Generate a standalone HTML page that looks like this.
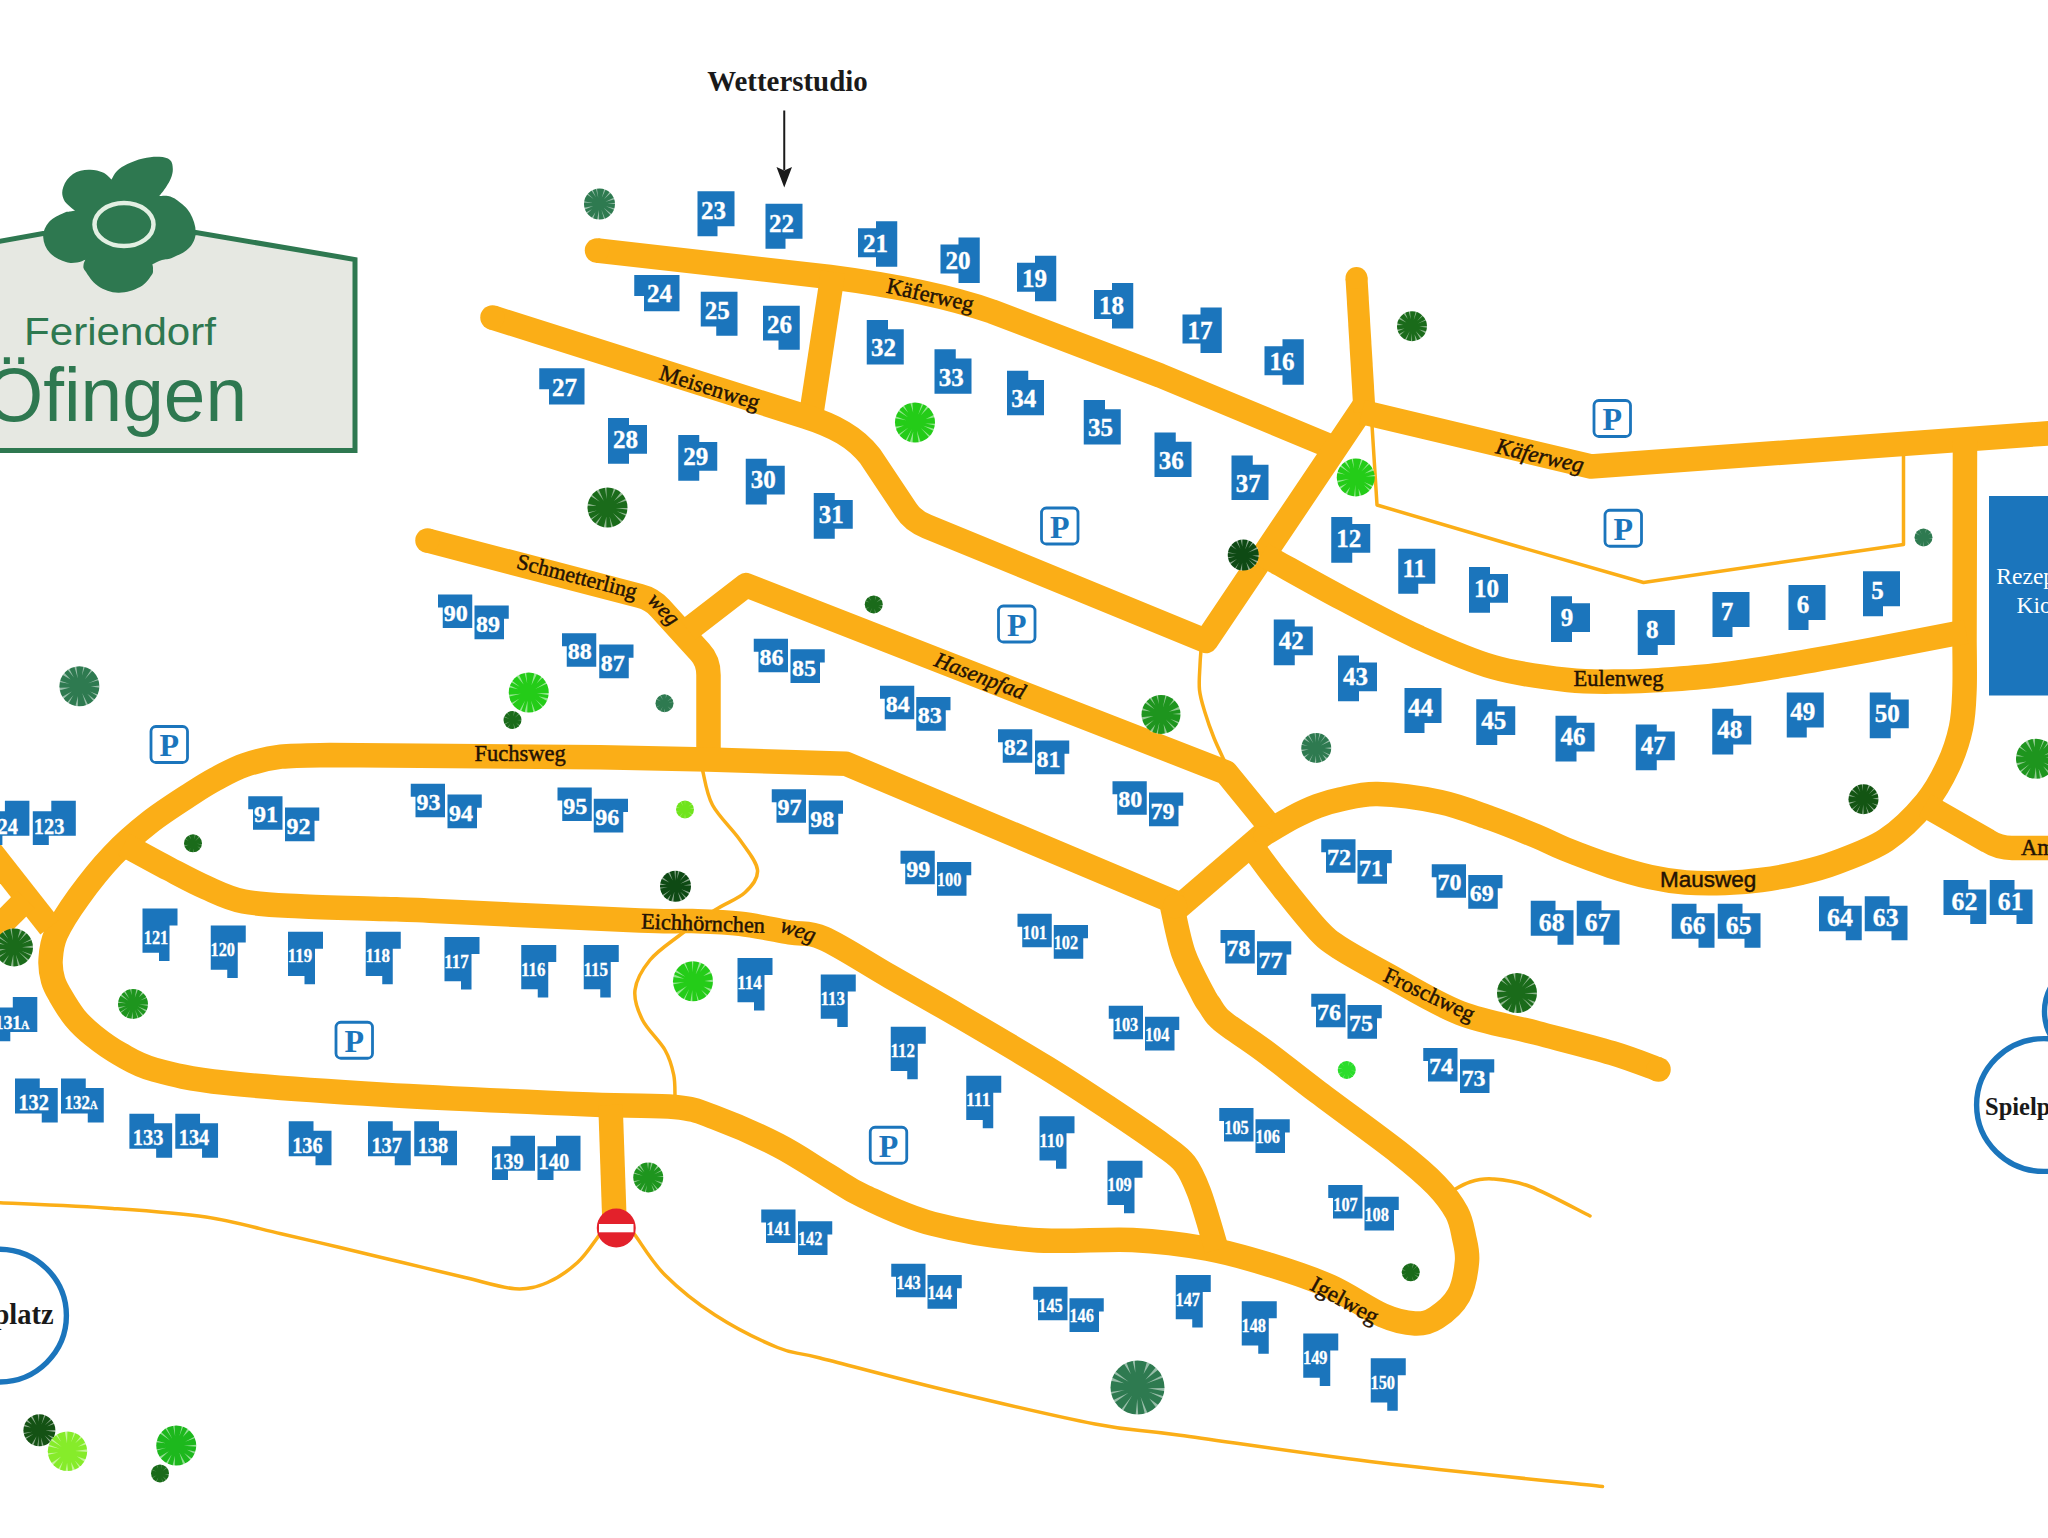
<!DOCTYPE html>
<html><head><meta charset="utf-8"><title>Feriendorf Öfingen</title>
<style>
html,body{margin:0;padding:0;background:#fff;}
body{width:2048px;height:1538px;overflow:hidden;font-family:"Liberation Sans",sans-serif;}
svg{display:block;}
</style></head><body>
<svg width="2048" height="1538" viewBox="0 0 2048 1538">
<rect width="2048" height="1538" fill="#fff"/>
<g fill="none" stroke="#FBAE17" stroke-linejoin="round">
<path d="M1372,425 L1377,505 L1504,542.5 L1643.5,582.5 L1903.5,544.5 L1903.5,455" stroke-width="3.5" stroke-linecap="round"/>
<path d="M1201,650C1200.83,652.5 1200.25,658.33 1200,665C1199.75,671.67 1198.67,682.08 1199.5,690C1200.33,697.92 1202.58,704.5 1205,712.5C1207.42,720.5 1210.83,730.08 1214,738C1217.17,745.92 1222.33,756.33 1224,760" stroke-width="3.5" stroke-linecap="round"/>
<path d="M702.5,770C704.17,775.83 706.25,793.33 712.5,805C718.75,816.67 732.5,829.17 740,840C747.5,850.83 756.67,861.25 757.5,870C758.33,878.75 752.08,885.83 745,892.5C737.92,899.17 725.83,902.92 715,910C704.17,917.08 690.83,926.67 680,935C669.17,943.33 657.5,950.83 650,960C642.5,969.17 636.25,980 635,990C633.75,1000 637.5,1010 642.5,1020C647.5,1030 659.79,1040.83 665,1050C670.21,1059.17 672.08,1067 673.75,1075C675.42,1083 674.79,1094.17 675,1098" stroke-width="3.5" stroke-linecap="round"/>
<path d="M-5,1202.5C14.58,1203.48 77.33,1205.98 112.5,1208.4C147.67,1210.82 177.92,1212.78 206,1217C234.08,1221.22 258.67,1228.67 281,1233.75C303.33,1238.83 319.75,1242.71 340,1247.5C360.25,1252.29 381.67,1257.5 402.5,1262.5C423.33,1267.5 446.25,1273.12 465,1277.5C483.75,1281.88 501.25,1287.92 515,1288.75C528.75,1289.58 537.08,1286.88 547.5,1282.5C557.92,1278.12 569.17,1270 577.5,1262.5C585.83,1255 592.75,1243.92 597.5,1237.5C602.25,1231.08 604.58,1226.25 606,1224" stroke-width="3.5" stroke-linecap="round"/>
<path d="M627,1224C628.33,1225.83 628.67,1226.5 635,1235C641.33,1243.5 651.67,1261.67 665,1275C678.33,1288.33 696.25,1302.92 715,1315C733.75,1327.08 760,1340.33 777.5,1347.5C795,1354.67 792.08,1350.92 820,1358C847.92,1365.08 899.17,1379 945,1390C990.83,1401 1055.83,1416.46 1095,1424C1134.17,1431.54 1132.5,1428.79 1180,1435.25C1227.5,1441.71 1309.58,1454.21 1380,1462.75C1450.42,1471.29 1565.42,1482.54 1602.5,1486.5" stroke-width="3.5" stroke-linecap="round"/>
<path d="M1450,1192C1453.33,1190.33 1462.92,1184.17 1470,1182C1477.08,1179.83 1482.5,1178.25 1492.5,1179C1502.5,1179.75 1513.75,1180.33 1530,1186.5C1546.25,1192.67 1580,1211.08 1590,1216" stroke-width="3.5" stroke-linecap="round"/>
<path d="M597,250.5 L830,277 Q930,290 992,311.5 L1160,375.5 L1332,447" stroke-width="24.5" stroke-linecap="butt"/>
<path d="M833,272 L811,416" stroke-width="24.5" stroke-linecap="butt"/>
<path d="M492.5,317.5 L805,416.5 C835,426 855,437 870,456 L906,510 Q913,521 927,526.5 L1206,641 L1366,403" stroke-width="24.5" stroke-linecap="butt"/>
<path d="M1356.5,278 L1364.5,412" stroke-width="22" stroke-linecap="butt"/>
<path d="M1362,412 L1591,466.5 L2060,432.5" stroke-width="24.5" stroke-linecap="butt"/>
<path d="M1262.5,835C1267.5,832.08 1283.33,822.33 1292.5,817.5C1301.67,812.67 1309.58,809 1317.5,806C1325.42,803 1330,801.5 1340,799.5C1350,797.5 1360.83,793.58 1377.5,794C1394.17,794.42 1421.25,798 1440,802C1458.75,806 1474,812.33 1490,818C1506,823.67 1523.5,830.83 1536,836C1548.5,841.17 1552.5,844 1565,849C1577.5,854 1596.83,861.33 1611,866C1625.17,870.67 1637.5,874.25 1650,877C1662.5,879.75 1673.5,881.5 1686,882.5C1698.5,883.5 1712.5,883.42 1725,883C1737.5,882.58 1748.5,881.67 1761,880C1773.5,878.33 1787.5,875.92 1800,873C1812.5,870.08 1821.67,868 1836,862.5C1850.33,857 1871,850 1886,840C1901,830 1915.58,815 1926,802.5C1936.42,790 1942.67,777.5 1948.5,765C1954.33,752.5 1958.33,740 1961,727.5C1963.67,715 1963.92,704.58 1964.5,690C1965.08,675.42 1964.5,648.33 1964.5,640 L1965,440" stroke-width="24.5" stroke-linecap="butt"/>
<path d="M1262,554C1264.27,555.27 1262.1,554.14 1275.6,561.6C1289.1,569.06 1319.27,586.18 1343,598.75C1366.73,611.32 1393,625.62 1418,637C1443,648.38 1468,659.83 1493,667C1518,674.17 1546.17,677.58 1568,680C1589.83,682.42 1608.5,681.5 1624,681.5C1639.5,681.5 1645,681.08 1661,680C1677,678.92 1699.17,677.5 1720,675C1740.83,672.5 1761,669.17 1786,665C1811,660.83 1842.17,655.17 1870,650C1897.83,644.83 1937,637.08 1953,634C1969,630.92 1963.83,631.92 1966,631.5" stroke-width="24.5" stroke-linecap="butt"/>
<path d="M1925,805 L1988,841 Q1999,848 2012,848 L2060,848" stroke-width="24.5" stroke-linecap="butt"/>
<path d="M427.5,540.5 L640,596 Q652,599 660,608 L700,652 Q708.5,661 708.5,675 L708.5,762" stroke-width="24.5" stroke-linecap="butt"/>
<path d="M688,630 L746,585.2 L1226,772.5 L1268,824" stroke-width="24.5" stroke-linecap="butt"/>
<path d="M1251,843.5C1252.13,845.33 1252.3,846.92 1257.8,854.5C1263.3,862.08 1273.97,876.42 1284,889C1294.03,901.58 1308.67,920.17 1318,930C1327.33,939.83 1328.57,940.58 1340,948C1351.43,955.42 1366.6,963.67 1386.6,974.5C1406.6,985.33 1434.93,1003.25 1460,1013C1485.07,1022.75 1511.67,1026.33 1537,1033C1562.33,1039.67 1591.75,1046.92 1612,1053C1632.25,1059.08 1650.75,1066.75 1658.5,1069.5" stroke-width="24.5" stroke-linecap="butt"/>
<path d="M1262.5,835 L1177,908.5" stroke-width="24.5" stroke-linecap="butt"/>
<path d="M1180,904.5 L846,763.75 L708,759.5 L600,757.3 L330,755 C321.83,755.28 295.17,755.03 281,756.7C266.83,758.37 255.9,761.28 245,765C234.1,768.72 224.35,774.33 215.6,779C206.85,783.67 203.43,785.83 192.5,793C181.57,800.17 163.33,811.57 150,822C136.67,832.43 124.38,843.1 112.5,855.6C100.62,868.1 88.17,883.93 78.75,897C69.33,910.07 60.69,923.5 56,934C51.31,944.5 51.1,952.33 50.6,960C50.1,967.67 51.43,974.17 53,980C54.57,985.83 56.33,988.67 60,995C63.67,1001.33 69.38,1011.17 75,1018C80.62,1024.83 86.25,1030 93.75,1036C101.25,1042 109.84,1048.38 120,1054C130.16,1059.62 137.2,1064.9 154.7,1069.7C172.2,1074.5 186.78,1078.63 225,1082.8C263.22,1086.97 323.17,1091.08 384,1094.7C444.83,1098.32 541.5,1102.45 590,1104.5C638.5,1106.55 654.17,1104.83 675,1107C695.83,1109.17 697.92,1111.17 715,1117.5C732.08,1123.83 758.75,1135.42 777.5,1145C796.25,1154.58 813.12,1166.46 827.5,1175C841.88,1183.54 846.25,1188.12 863.75,1196.25C881.25,1204.38 904.38,1216.46 932.5,1223.75C960.62,1231.04 999.17,1237.29 1032.5,1240C1065.83,1242.71 1103.33,1238.54 1132.5,1240C1161.67,1241.46 1184.58,1244.58 1207.5,1248.75C1230.42,1252.92 1249.58,1258.71 1270,1265C1290.42,1271.29 1311.25,1278.12 1330,1286.5C1348.75,1294.88 1368.33,1309.08 1382.5,1315.25C1396.67,1321.42 1406.04,1323.08 1415,1323.5C1423.96,1323.92 1428.96,1322.46 1436.25,1317.75C1443.54,1313.04 1453.62,1304.62 1458.75,1295.25C1463.88,1285.88 1466.12,1271.21 1467,1261.5C1467.88,1251.79 1465.71,1245.17 1464,1237C1462.29,1228.83 1461.42,1221.17 1456.75,1212.5C1452.08,1203.83 1445.67,1195 1436,1185C1426.33,1175 1418.29,1167.87 1398.75,1152.5C1379.21,1137.13 1341.21,1109.78 1318.75,1092.8C1296.29,1075.82 1279.12,1061.82 1264,1050.6C1248.88,1039.38 1235.83,1031.27 1228,1025.5C1220.17,1019.73 1220.08,1019.42 1217,1016C1213.92,1012.58 1211.83,1008.6 1209.5,1005C1207.17,1001.4 1207.32,1002.94 1203,994.4C1198.68,985.86 1188.68,968.15 1183.6,953.75C1178.52,939.35 1174.35,915.62 1172.5,908 L1170.5,901" stroke-width="24.5" stroke-linecap="butt"/>
<path d="M124,844.5C131.46,848.54 155.08,861.58 168.75,868.75C182.42,875.92 193.5,882.04 206,887.5C218.5,892.96 228.08,898.38 243.75,901.5C259.42,904.62 276.62,905 300,906.25C323.38,907.5 362.33,908.25 384,909C405.67,909.75 387.33,908.83 430,910.75C472.67,912.67 596.33,918.79 640,920.5C683.67,922.21 675.33,920.46 692,921C708.67,921.54 723.67,921.83 740,923.75C756.33,925.67 776,930.04 790,932.5C804,934.96 807.33,931.17 824,938.5C840.67,945.83 867.33,963.5 890,976.5C912.67,989.5 934,1001.33 960,1016.5C986,1031.67 1021.27,1052.28 1046,1067.5C1070.73,1082.72 1088.9,1094.83 1108.4,1107.8C1127.9,1120.77 1150.23,1135.93 1163,1145.3C1175.77,1154.67 1179,1156.18 1185,1164C1191,1171.82 1194.33,1180.03 1199,1192.2C1203.67,1204.37 1210.08,1227.37 1213,1237C1215.92,1246.63 1215.92,1247.83 1216.5,1250" stroke-width="24.5" stroke-linecap="butt"/>
<path d="M610.5,1105 L614.25,1215" stroke-width="24.5" stroke-linecap="butt"/>
<path d="M-12,848 L50,927" stroke-width="24.5" stroke-linecap="butt"/>
<path d="M-12,937.5 L26,899.5" stroke-width="24.5" stroke-linecap="butt"/>
</g>
<g fill="#FBAE17">
<circle cx="597" cy="250.5" r="12.25"/>
<circle cx="492.5" cy="317.5" r="12.25"/>
<circle cx="1356.5" cy="278" r="11"/>
<circle cx="427.5" cy="540.5" r="12.25"/>
<circle cx="1658.5" cy="1069.5" r="12.25"/>
<circle cx="1175" cy="906" r="12.25"/>
<circle cx="1263" cy="835.5" r="9.5"/>
</g>
<g fill="#1B75BC">
<polygon points="697.5,191.25 734.5,191.25 734.5,226.25 717.5,226.25 717.5,236.25 697.5,236.25"/>
<polygon points="765.5,203.75 802.5,203.75 802.5,238.75 785.5,238.75 785.5,248.75 765.5,248.75"/>
<polygon points="1398.25,548.75 1435.25,548.75 1435.25,583.75 1418.25,583.75 1418.25,593.75 1398.25,593.75"/>
<polygon points="1637.75,610 1674.75,610 1674.75,645 1657.75,645 1657.75,655 1637.75,655"/>
<polygon points="1712.5,592 1749.5,592 1749.5,627 1732.5,627 1732.5,637 1712.5,637"/>
<polygon points="1788.5,585 1825.5,585 1825.5,620 1808.5,620 1808.5,630 1788.5,630"/>
<polygon points="1863,571.25 1900,571.25 1900,606.25 1883,606.25 1883,616.25 1863,616.25"/>
<polygon points="1404.5,688 1441.5,688 1441.5,723 1424.5,723 1424.5,733 1404.5,733"/>
<polygon points="1786.75,692.5 1823.75,692.5 1823.75,727.5 1806.75,727.5 1806.75,737.5 1786.75,737.5"/>
<polygon points="858,228.25 876,228.25 876,221.25 897.25,221.25 897.25,266.75 876,266.75 876,257.25 858,257.25"/>
<polygon points="940.5,244.5 958.5,244.5 958.5,237.5 979.75,237.5 979.75,283 958.5,283 958.5,273.5 940.5,273.5"/>
<polygon points="1017,262.75 1035,262.75 1035,255.75 1056.25,255.75 1056.25,301.25 1035,301.25 1035,291.75 1017,291.75"/>
<polygon points="1094,290 1112,290 1112,283 1133.25,283 1133.25,328.5 1112,328.5 1112,319 1094,319"/>
<polygon points="1182.5,314.5 1200.5,314.5 1200.5,307.5 1221.75,307.5 1221.75,353 1200.5,353 1200.5,343.5 1182.5,343.5"/>
<polygon points="1264.5,346.25 1282.5,346.25 1282.5,339.25 1303.75,339.25 1303.75,384.75 1282.5,384.75 1282.5,375.25 1264.5,375.25"/>
<polygon points="634.25,275 679.5,275 679.5,311.25 644,311.25 644,296 634.25,296"/>
<polygon points="539.25,368.25 584.5,368.25 584.5,404.5 549,404.5 549,389.25 539.25,389.25"/>
<polygon points="700.75,291.75 737.5,291.75 737.5,335.75 716.25,335.75 716.25,326.5 700.75,326.5"/>
<polygon points="763,305.75 799.75,305.75 799.75,349.75 778.5,349.75 778.5,340.5 763,340.5"/>
<polygon points="608,418 629,418 629,425 647,425 647,453.75 629,453.75 629,463.75 608,463.75"/>
<polygon points="678.25,435 699.25,435 699.25,442 717.25,442 717.25,470.75 699.25,470.75 699.25,480.75 678.25,480.75"/>
<polygon points="745.75,458.75 766.75,458.75 766.75,465.75 784.75,465.75 784.75,494.5 766.75,494.5 766.75,504.5 745.75,504.5"/>
<polygon points="813.75,493 834.75,493 834.75,500 852.75,500 852.75,528.75 834.75,528.75 834.75,538.75 813.75,538.75"/>
<polygon points="1331.25,517 1352.25,517 1352.25,524 1370.25,524 1370.25,552.75 1352.25,552.75 1352.25,562.75 1331.25,562.75"/>
<polygon points="1469,567 1490,567 1490,574 1508,574 1508,602.75 1490,602.75 1490,612.75 1469,612.75"/>
<polygon points="1551,596.25 1572,596.25 1572,603.25 1590,603.25 1590,632 1572,632 1572,642 1551,642"/>
<polygon points="1273.75,619.5 1294.75,619.5 1294.75,626.5 1312.75,626.5 1312.75,655.25 1294.75,655.25 1294.75,665.25 1273.75,665.25"/>
<polygon points="1338,655.5 1359,655.5 1359,662.5 1377,662.5 1377,691.25 1359,691.25 1359,701.25 1338,701.25"/>
<polygon points="1476.25,699.25 1497.25,699.25 1497.25,706.25 1515.25,706.25 1515.25,735 1497.25,735 1497.25,745 1476.25,745"/>
<polygon points="1555.5,715.75 1576.5,715.75 1576.5,722.75 1594.5,722.75 1594.5,751.5 1576.5,751.5 1576.5,761.5 1555.5,761.5"/>
<polygon points="1635.75,724.5 1656.75,724.5 1656.75,731.5 1674.75,731.5 1674.75,760.25 1656.75,760.25 1656.75,770.25 1635.75,770.25"/>
<polygon points="1712.25,708.75 1733.25,708.75 1733.25,715.75 1751.25,715.75 1751.25,744.5 1733.25,744.5 1733.25,754.5 1712.25,754.5"/>
<polygon points="1869.75,692.5 1890.75,692.5 1890.75,699.5 1908.75,699.5 1908.75,728.25 1890.75,728.25 1890.75,738.25 1869.75,738.25"/>
<polygon points="866.75,320 888,320 888,329.25 903.75,329.25 903.75,364.5 866.75,364.5"/>
<polygon points="934.5,349.25 955.75,349.25 955.75,358.5 971.5,358.5 971.5,393.75 934.5,393.75"/>
<polygon points="1007,370.75 1028.25,370.75 1028.25,380 1044,380 1044,415.25 1007,415.25"/>
<polygon points="1083.75,400 1105,400 1105,409.25 1120.75,409.25 1120.75,444.5 1083.75,444.5"/>
<polygon points="1154.5,432.5 1175.75,432.5 1175.75,441.75 1191.5,441.75 1191.5,477 1154.5,477"/>
<polygon points="1231.5,455.5 1252.75,455.5 1252.75,464.75 1268.5,464.75 1268.5,500 1231.5,500"/>
<polygon points="438,594.5 472.25,594.5 472.25,628 442.75,628 442.75,607.5 438,607.5"/>
<polygon points="562,633.25 596.25,633.25 596.25,666.75 566.75,666.75 566.75,646.25 562,646.25"/>
<polygon points="753.75,638.75 788,638.75 788,672.25 758.5,672.25 758.5,651.75 753.75,651.75"/>
<polygon points="880,685.75 914.25,685.75 914.25,719.25 884.75,719.25 884.75,698.75 880,698.75"/>
<polygon points="998,729.25 1032.25,729.25 1032.25,762.75 1002.75,762.75 1002.75,742.25 998,742.25"/>
<polygon points="1112.5,781.25 1146.75,781.25 1146.75,814.75 1117.25,814.75 1117.25,794.25 1112.5,794.25"/>
<polygon points="1321.25,839.25 1355.5,839.25 1355.5,872.75 1326,872.75 1326,852.25 1321.25,852.25"/>
<polygon points="1431.75,864.25 1466,864.25 1466,897.75 1436.5,897.75 1436.5,877.25 1431.75,877.25"/>
<polygon points="1220.5,930 1254.75,930 1254.75,963.5 1225.25,963.5 1225.25,943 1220.5,943"/>
<polygon points="1311.25,993.75 1345.5,993.75 1345.5,1027.25 1316,1027.25 1316,1006.75 1311.25,1006.75"/>
<polygon points="1423.25,1048 1457.5,1048 1457.5,1081.5 1428,1081.5 1428,1061 1423.25,1061"/>
<polygon points="248.25,796.25 282.5,796.25 282.5,829.75 253,829.75 253,809.25 248.25,809.25"/>
<polygon points="410.75,783.75 445,783.75 445,817.25 415.5,817.25 415.5,796.75 410.75,796.75"/>
<polygon points="557.5,787.5 591.75,787.5 591.75,821 562.25,821 562.25,800.5 557.5,800.5"/>
<polygon points="771.75,789.25 806,789.25 806,822.75 776.5,822.75 776.5,802.25 771.75,802.25"/>
<polygon points="900.5,850.75 934.75,850.75 934.75,884.25 905.25,884.25 905.25,863.75 900.5,863.75"/>
<polygon points="1017.5,913.75 1051.75,913.75 1051.75,947.25 1022.25,947.25 1022.25,926.75 1017.5,926.75"/>
<polygon points="1108.75,1005.75 1143,1005.75 1143,1039.25 1113.5,1039.25 1113.5,1018.75 1108.75,1018.75"/>
<polygon points="1219.25,1108 1253.5,1108 1253.5,1141.5 1224,1141.5 1224,1121 1219.25,1121"/>
<polygon points="1328.25,1185 1362.5,1185 1362.5,1218.5 1333,1218.5 1333,1198 1328.25,1198"/>
<polygon points="761.25,1209.5 795.5,1209.5 795.5,1243 766,1243 766,1222.5 761.25,1222.5"/>
<polygon points="891.25,1263.75 925.5,1263.75 925.5,1297.25 896,1297.25 896,1276.75 891.25,1276.75"/>
<polygon points="1033.25,1286.75 1067.5,1286.75 1067.5,1320.25 1038,1320.25 1038,1299.75 1033.25,1299.75"/>
<polygon points="474.5,605.5 508.75,605.5 508.75,618.75 504,618.75 504,639.25 474.5,639.25"/>
<polygon points="599.25,644.5 633.5,644.5 633.5,657.75 628.75,657.75 628.75,678.25 599.25,678.25"/>
<polygon points="790.5,649.25 824.75,649.25 824.75,662.5 820,662.5 820,683 790.5,683"/>
<polygon points="916.25,697 950.5,697 950.5,710.25 945.75,710.25 945.75,730.75 916.25,730.75"/>
<polygon points="1035,740.5 1069.25,740.5 1069.25,753.75 1064.5,753.75 1064.5,774.25 1035,774.25"/>
<polygon points="1149,792.5 1183.25,792.5 1183.25,805.75 1178.5,805.75 1178.5,826.25 1149,826.25"/>
<polygon points="1357.5,850 1391.75,850 1391.75,863.25 1387,863.25 1387,883.75 1357.5,883.75"/>
<polygon points="1468.25,875 1502.5,875 1502.5,888.25 1497.75,888.25 1497.75,908.75 1468.25,908.75"/>
<polygon points="1257,941.25 1291.25,941.25 1291.25,954.5 1286.5,954.5 1286.5,975 1257,975"/>
<polygon points="1347.5,1005 1381.75,1005 1381.75,1018.25 1377,1018.25 1377,1038.75 1347.5,1038.75"/>
<polygon points="1460,1059.25 1494.25,1059.25 1494.25,1072.5 1489.5,1072.5 1489.5,1093 1460,1093"/>
<polygon points="285,807.5 319.25,807.5 319.25,820.75 314.5,820.75 314.5,841.25 285,841.25"/>
<polygon points="447.5,794.5 481.75,794.5 481.75,807.75 477,807.75 477,828.25 447.5,828.25"/>
<polygon points="593.75,798.75 628,798.75 628,812 623.25,812 623.25,832.5 593.75,832.5"/>
<polygon points="808.75,800.5 843,800.5 843,813.75 838.25,813.75 838.25,834.25 808.75,834.25"/>
<polygon points="937,862 971.25,862 971.25,875.25 966.5,875.25 966.5,895.75 937,895.75"/>
<polygon points="1053.75,925 1088,925 1088,938.25 1083.25,938.25 1083.25,958.75 1053.75,958.75"/>
<polygon points="1145,1016.75 1179.25,1016.75 1179.25,1030 1174.5,1030 1174.5,1050.5 1145,1050.5"/>
<polygon points="1255.5,1119.25 1289.75,1119.25 1289.75,1132.5 1285,1132.5 1285,1153 1255.5,1153"/>
<polygon points="1364.5,1196.75 1398.75,1196.75 1398.75,1210 1394,1210 1394,1230.5 1364.5,1230.5"/>
<polygon points="798,1221.25 832.25,1221.25 832.25,1234.5 827.5,1234.5 827.5,1255 798,1255"/>
<polygon points="927.5,1275 961.75,1275 961.75,1288.25 957,1288.25 957,1308.75 927.5,1308.75"/>
<polygon points="1069.5,1298.25 1103.75,1298.25 1103.75,1311.5 1099,1311.5 1099,1332 1069.5,1332"/>
<polygon points="1530.75,900.75 1555.5,900.75 1555.5,910.25 1573.5,910.25 1573.5,944.75 1557.5,944.75 1557.5,935.75 1530.75,935.75"/>
<polygon points="1576.75,900.75 1601.5,900.75 1601.5,910.25 1619.5,910.25 1619.5,944.75 1603.5,944.75 1603.5,935.75 1576.75,935.75"/>
<polygon points="1671.75,903.75 1696.5,903.75 1696.5,913.25 1714.5,913.25 1714.5,947.75 1698.5,947.75 1698.5,938.75 1671.75,938.75"/>
<polygon points="1717.75,903.75 1742.5,903.75 1742.5,913.25 1760.5,913.25 1760.5,947.75 1744.5,947.75 1744.5,938.75 1717.75,938.75"/>
<polygon points="1819,896.25 1843.75,896.25 1843.75,905.75 1861.75,905.75 1861.75,940.25 1845.75,940.25 1845.75,931.25 1819,931.25"/>
<polygon points="1864.75,896.25 1889.5,896.25 1889.5,905.75 1907.5,905.75 1907.5,940.25 1891.5,940.25 1891.5,931.25 1864.75,931.25"/>
<polygon points="1943.5,880 1968.25,880 1968.25,889.5 1986.25,889.5 1986.25,924 1970.25,924 1970.25,915 1943.5,915"/>
<polygon points="1989.75,880 2014.5,880 2014.5,889.5 2032.5,889.5 2032.5,924 2016.5,924 2016.5,915 1989.75,915"/>
<polygon points="15,1078.5 39.75,1078.5 39.75,1088 57.75,1088 57.75,1122.5 41.75,1122.5 41.75,1113.5 15,1113.5"/>
<polygon points="61,1078.5 85.75,1078.5 85.75,1088 103.75,1088 103.75,1122.5 87.75,1122.5 87.75,1113.5 61,1113.5"/>
<polygon points="129.4,1113.75 154.15,1113.75 154.15,1123.25 172.15,1123.25 172.15,1157.75 156.15,1157.75 156.15,1148.75 129.4,1148.75"/>
<polygon points="175.3,1113.75 200.05,1113.75 200.05,1123.25 218.05,1123.25 218.05,1157.75 202.05,1157.75 202.05,1148.75 175.3,1148.75"/>
<polygon points="288.75,1121.25 313.5,1121.25 313.5,1130.75 331.5,1130.75 331.5,1165.25 315.5,1165.25 315.5,1156.25 288.75,1156.25"/>
<polygon points="368,1121.25 392.75,1121.25 392.75,1130.75 410.75,1130.75 410.75,1165.25 394.75,1165.25 394.75,1156.25 368,1156.25"/>
<polygon points="414.25,1121.25 439,1121.25 439,1130.75 457,1130.75 457,1165.25 441,1165.25 441,1156.25 414.25,1156.25"/>
<polygon points="142.5,908.5 177.5,908.5 177.5,925.5 169.5,925.5 169.5,961 159,961 159,952.75 142.5,952.75"/>
<polygon points="210.75,925.5 245.75,925.5 245.75,942.5 237.75,942.5 237.75,978 227.25,978 227.25,969.75 210.75,969.75"/>
<polygon points="288,931.75 323,931.75 323,948.75 315,948.75 315,984.25 304.5,984.25 304.5,976 288,976"/>
<polygon points="365.75,931.75 400.75,931.75 400.75,948.75 392.75,948.75 392.75,984.25 382.25,984.25 382.25,976 365.75,976"/>
<polygon points="444.5,937 479.5,937 479.5,954 471.5,954 471.5,989.5 461,989.5 461,981.25 444.5,981.25"/>
<polygon points="521.25,945 556.25,945 556.25,962 548.25,962 548.25,997.5 537.75,997.5 537.75,989.25 521.25,989.25"/>
<polygon points="583.75,945 618.75,945 618.75,962 610.75,962 610.75,997.5 600.25,997.5 600.25,989.25 583.75,989.25"/>
<polygon points="737.5,958 772.5,958 772.5,975 764.5,975 764.5,1010.5 754,1010.5 754,1002.25 737.5,1002.25"/>
<polygon points="820.75,974.5 855.75,974.5 855.75,991.5 847.75,991.5 847.75,1027 837.25,1027 837.25,1018.75 820.75,1018.75"/>
<polygon points="890.75,1026.75 925.75,1026.75 925.75,1043.75 917.75,1043.75 917.75,1079.25 907.25,1079.25 907.25,1071 890.75,1071"/>
<polygon points="966.25,1075.75 1001.25,1075.75 1001.25,1092.75 993.25,1092.75 993.25,1128.25 982.75,1128.25 982.75,1120 966.25,1120"/>
<polygon points="1039.5,1116.25 1074.5,1116.25 1074.5,1133.25 1066.5,1133.25 1066.5,1168.75 1056,1168.75 1056,1160.5 1039.5,1160.5"/>
<polygon points="1107.5,1160.75 1142.5,1160.75 1142.5,1177.75 1134.5,1177.75 1134.5,1213.25 1124,1213.25 1124,1205 1107.5,1205"/>
<polygon points="1175.75,1275 1210.75,1275 1210.75,1292 1202.75,1292 1202.75,1327.5 1192.25,1327.5 1192.25,1319.25 1175.75,1319.25"/>
<polygon points="1241.75,1301.25 1276.75,1301.25 1276.75,1318.25 1268.75,1318.25 1268.75,1353.75 1258.25,1353.75 1258.25,1345.5 1241.75,1345.5"/>
<polygon points="1303.25,1333.5 1338.25,1333.5 1338.25,1350.5 1330.25,1350.5 1330.25,1386 1319.75,1386 1319.75,1377.75 1303.25,1377.75"/>
<polygon points="1370.75,1358.25 1405.75,1358.25 1405.75,1375.25 1397.75,1375.25 1397.75,1410.75 1387.25,1410.75 1387.25,1402.5 1370.75,1402.5"/>
<polygon points="32.8,811.2 51.3,811.2 51.3,800.7 75.8,800.7 75.8,835.7 48.8,835.7 48.8,844.95 32.8,844.95"/>
<polygon points="-13.6,811.2 4.9,811.2 4.9,800.7 29.4,800.7 29.4,835.7 2.4,835.7 2.4,844.95 -13.6,844.95"/>
<polygon points="-5.7,1007.5 12.8,1007.5 12.8,997 37.3,997 37.3,1032 10.3,1032 10.3,1041.25 -5.7,1041.25"/>
<polygon points="492,1146.25 510.5,1146.25 510.5,1135.75 535,1135.75 535,1170.75 508,1170.75 508,1180 492,1180"/>
<polygon points="537.5,1146.25 556,1146.25 556,1135.75 580.5,1135.75 580.5,1170.75 553.5,1170.75 553.5,1180 537.5,1180"/>
</g>
<g fill="#fff" stroke="#fff" stroke-width="0.35" font-family="'Liberation Serif', serif" font-weight="bold" text-anchor="middle">
<text x="713.5" y="219.05" font-size="25">23</text>
<text x="781.5" y="231.55" font-size="25">22</text>
<text x="1414.25" y="576.55" font-size="25">11</text>
<text x="1652.25" y="637.8" font-size="25">8</text>
<text x="1727" y="619.8" font-size="25">7</text>
<text x="1803" y="612.8" font-size="25">6</text>
<text x="1877.5" y="599.05" font-size="25">5</text>
<text x="1420.5" y="715.8" font-size="25">44</text>
<text x="1802.75" y="720.3" font-size="25">49</text>
<text x="875.5" y="252.25" font-size="25">21</text>
<text x="958" y="268.5" font-size="25">20</text>
<text x="1034.5" y="286.75" font-size="25">19</text>
<text x="1111.5" y="314" font-size="25">18</text>
<text x="1200" y="338.5" font-size="25">17</text>
<text x="1282" y="370.25" font-size="25">16</text>
<text x="659.55" y="302.4" font-size="25">24</text>
<text x="564.55" y="395.65" font-size="25">27</text>
<text x="717.35" y="318.85" font-size="25">25</text>
<text x="779.6" y="332.85" font-size="25">26</text>
<text x="625.5" y="447.5" font-size="25">28</text>
<text x="695.75" y="464.5" font-size="25">29</text>
<text x="763.25" y="488.25" font-size="25">30</text>
<text x="831.25" y="522.5" font-size="25">31</text>
<text x="1348.75" y="546.5" font-size="25">12</text>
<text x="1486.5" y="596.5" font-size="25">10</text>
<text x="1567" y="625.75" font-size="25">9</text>
<text x="1291.25" y="649" font-size="25">42</text>
<text x="1355.5" y="685" font-size="25">43</text>
<text x="1493.75" y="728.75" font-size="25">45</text>
<text x="1573" y="745.25" font-size="25">46</text>
<text x="1653.25" y="754" font-size="25">47</text>
<text x="1729.75" y="738.25" font-size="25">48</text>
<text x="1887.25" y="722" font-size="25">50</text>
<text x="883.55" y="356.25" font-size="25">32</text>
<text x="951.3" y="385.5" font-size="25">33</text>
<text x="1023.8" y="407" font-size="25">34</text>
<text x="1100.55" y="436.25" font-size="25">35</text>
<text x="1171.3" y="468.75" font-size="25">36</text>
<text x="1248.3" y="491.75" font-size="25">37</text>
<text x="455.75" y="620.5" font-size="24">90</text>
<text x="579.75" y="659.25" font-size="24">88</text>
<text x="771.5" y="664.75" font-size="24">86</text>
<text x="897.75" y="711.75" font-size="24">84</text>
<text x="1015.75" y="755.25" font-size="24">82</text>
<text x="1130.25" y="807.25" font-size="24">80</text>
<text x="1339" y="865.25" font-size="24">72</text>
<text x="1449.5" y="890.25" font-size="24">70</text>
<text x="1238.25" y="956" font-size="24">78</text>
<text x="1329" y="1019.75" font-size="24">76</text>
<text x="1441" y="1074" font-size="24">74</text>
<text x="266" y="822.25" font-size="24">91</text>
<text x="428.5" y="809.75" font-size="24">93</text>
<text x="575.25" y="813.5" font-size="24">95</text>
<text x="789.5" y="815.25" font-size="24">97</text>
<text x="918.25" y="876.75" font-size="24">99</text>
<text x="1034.75" y="939.25" font-size="19.5" textLength="24.5" lengthAdjust="spacingAndGlyphs">101</text>
<text x="1126" y="1031.25" font-size="19.5" textLength="24.5" lengthAdjust="spacingAndGlyphs">103</text>
<text x="1236.5" y="1133.5" font-size="19.5" textLength="24.5" lengthAdjust="spacingAndGlyphs">105</text>
<text x="1345.5" y="1210.5" font-size="19.5" textLength="24.5" lengthAdjust="spacingAndGlyphs">107</text>
<text x="778.5" y="1235" font-size="19.5" textLength="24.5" lengthAdjust="spacingAndGlyphs">141</text>
<text x="908.5" y="1289.25" font-size="19.5" textLength="24.5" lengthAdjust="spacingAndGlyphs">143</text>
<text x="1050.5" y="1312.25" font-size="19.5" textLength="24.5" lengthAdjust="spacingAndGlyphs">145</text>
<text x="487.9" y="631.9" font-size="24">89</text>
<text x="612.65" y="670.9" font-size="24">87</text>
<text x="803.9" y="675.65" font-size="24">85</text>
<text x="929.65" y="723.4" font-size="24">83</text>
<text x="1048.4" y="766.9" font-size="24">81</text>
<text x="1162.4" y="818.9" font-size="24">79</text>
<text x="1370.9" y="876.4" font-size="24">71</text>
<text x="1481.65" y="901.4" font-size="24">69</text>
<text x="1270.4" y="967.65" font-size="24">77</text>
<text x="1360.9" y="1031.4" font-size="24">75</text>
<text x="1473.4" y="1085.65" font-size="24">73</text>
<text x="298.4" y="833.9" font-size="24">92</text>
<text x="460.9" y="820.9" font-size="24">94</text>
<text x="607.15" y="825.15" font-size="24">96</text>
<text x="822.15" y="826.9" font-size="24">98</text>
<text x="949.2" y="885.9" font-size="19.5" textLength="24.5" lengthAdjust="spacingAndGlyphs">100</text>
<text x="1065.95" y="948.9" font-size="19.5" textLength="24.5" lengthAdjust="spacingAndGlyphs">102</text>
<text x="1157.2" y="1040.65" font-size="19.5" textLength="24.5" lengthAdjust="spacingAndGlyphs">104</text>
<text x="1267.7" y="1143.15" font-size="19.5" textLength="24.5" lengthAdjust="spacingAndGlyphs">106</text>
<text x="1376.7" y="1220.65" font-size="19.5" textLength="24.5" lengthAdjust="spacingAndGlyphs">108</text>
<text x="810.2" y="1245.15" font-size="19.5" textLength="24.5" lengthAdjust="spacingAndGlyphs">142</text>
<text x="939.7" y="1298.9" font-size="19.5" textLength="24.5" lengthAdjust="spacingAndGlyphs">144</text>
<text x="1081.7" y="1322.15" font-size="19.5" textLength="24.5" lengthAdjust="spacingAndGlyphs">146</text>
<text x="1551.75" y="930.75" font-size="25.8">68</text>
<text x="1597.75" y="930.75" font-size="25.8">67</text>
<text x="1692.75" y="933.75" font-size="25.8">66</text>
<text x="1738.75" y="933.75" font-size="25.8">65</text>
<text x="1840" y="926.25" font-size="25.8">64</text>
<text x="1885.75" y="926.25" font-size="25.8">63</text>
<text x="1964.5" y="910" font-size="25.8">62</text>
<text x="2010.75" y="910" font-size="25.8">61</text>
<text x="33.7" y="1110" font-size="24" textLength="30.5" lengthAdjust="spacingAndGlyphs">132</text>
<text x="81" y="1108.5" font-size="18.5" textLength="33" lengthAdjust="spacingAndGlyphs">132<tspan font-size="11.5">A</tspan></text>
<text x="148.1" y="1145.25" font-size="24" textLength="30.5" lengthAdjust="spacingAndGlyphs">133</text>
<text x="194" y="1145.25" font-size="24" textLength="30.5" lengthAdjust="spacingAndGlyphs">134</text>
<text x="307.45" y="1152.75" font-size="24" textLength="30.5" lengthAdjust="spacingAndGlyphs">136</text>
<text x="386.7" y="1152.75" font-size="24" textLength="30.5" lengthAdjust="spacingAndGlyphs">137</text>
<text x="432.95" y="1152.75" font-size="24" textLength="30.5" lengthAdjust="spacingAndGlyphs">138</text>
<text x="156" y="943.7" font-size="19.5" textLength="24.5" lengthAdjust="spacingAndGlyphs">121</text>
<text x="222.75" y="956" font-size="19.5" textLength="24.5" lengthAdjust="spacingAndGlyphs">120</text>
<text x="300" y="962.25" font-size="19.5" textLength="24.5" lengthAdjust="spacingAndGlyphs">119</text>
<text x="377.75" y="962.25" font-size="19.5" textLength="24.5" lengthAdjust="spacingAndGlyphs">118</text>
<text x="456.5" y="967.5" font-size="19.5" textLength="24.5" lengthAdjust="spacingAndGlyphs">117</text>
<text x="533.25" y="975.5" font-size="19.5" textLength="24.5" lengthAdjust="spacingAndGlyphs">116</text>
<text x="595.75" y="975.5" font-size="19.5" textLength="24.5" lengthAdjust="spacingAndGlyphs">115</text>
<text x="749.5" y="988.5" font-size="19.5" textLength="24.5" lengthAdjust="spacingAndGlyphs">114</text>
<text x="832.75" y="1005" font-size="19.5" textLength="24.5" lengthAdjust="spacingAndGlyphs">113</text>
<text x="902.75" y="1057.25" font-size="19.5" textLength="24.5" lengthAdjust="spacingAndGlyphs">112</text>
<text x="978.25" y="1106.25" font-size="19.5" textLength="24.5" lengthAdjust="spacingAndGlyphs">111</text>
<text x="1051.5" y="1146.75" font-size="19.5" textLength="24.5" lengthAdjust="spacingAndGlyphs">110</text>
<text x="1119.5" y="1191.25" font-size="19.5" textLength="24.5" lengthAdjust="spacingAndGlyphs">109</text>
<text x="1187.75" y="1305.5" font-size="19.5" textLength="24.5" lengthAdjust="spacingAndGlyphs">147</text>
<text x="1253.75" y="1331.75" font-size="19.5" textLength="24.5" lengthAdjust="spacingAndGlyphs">148</text>
<text x="1315.25" y="1364" font-size="19.5" textLength="24.5" lengthAdjust="spacingAndGlyphs">149</text>
<text x="1382.75" y="1388.75" font-size="19.5" textLength="24.5" lengthAdjust="spacingAndGlyphs">150</text>
<text x="49.1" y="834.2" font-size="24" textLength="30.5" lengthAdjust="spacingAndGlyphs">123</text>
<text x="2.7" y="834.2" font-size="24" textLength="30.5" lengthAdjust="spacingAndGlyphs">124</text>
<text x="11.9" y="1029" font-size="18.5" textLength="35" lengthAdjust="spacingAndGlyphs">131<tspan font-size="11.5">A</tspan></text>
<text x="508.3" y="1169.25" font-size="24" textLength="30.5" lengthAdjust="spacingAndGlyphs">139</text>
<text x="553.8" y="1169.25" font-size="24" textLength="30.5" lengthAdjust="spacingAndGlyphs">140</text>
</g>
<rect x="1989" y="496" width="70" height="199.5" fill="#1B75BC"/>
<g fill="#fff" font-family="'Liberation Serif', serif" font-size="23.5" text-anchor="middle">
<text x="2044" y="584">Rezeption</text><text x="2044.5" y="613">Kiosk</text></g>
<rect x="1041.5" y="508" width="36.5" height="36" rx="4.8" ry="4.8" fill="#fff" stroke="#1B75BC" stroke-width="2.8"/>
<text x="1059.7" y="537.5" font-family="'Liberation Serif', serif" font-weight="bold" font-size="32" fill="#1B75BC" text-anchor="middle">P</text>
<rect x="998.5" y="606" width="36.5" height="36" rx="4.8" ry="4.8" fill="#fff" stroke="#1B75BC" stroke-width="2.8"/>
<text x="1016.7" y="635.5" font-family="'Liberation Serif', serif" font-weight="bold" font-size="32" fill="#1B75BC" text-anchor="middle">P</text>
<rect x="1594" y="400.5" width="36.5" height="36" rx="4.8" ry="4.8" fill="#fff" stroke="#1B75BC" stroke-width="2.8"/>
<text x="1612.2" y="430" font-family="'Liberation Serif', serif" font-weight="bold" font-size="32" fill="#1B75BC" text-anchor="middle">P</text>
<rect x="1605" y="510.25" width="36.5" height="36" rx="4.8" ry="4.8" fill="#fff" stroke="#1B75BC" stroke-width="2.8"/>
<text x="1623.2" y="539.75" font-family="'Liberation Serif', serif" font-weight="bold" font-size="32" fill="#1B75BC" text-anchor="middle">P</text>
<rect x="151" y="726.5" width="36.5" height="36" rx="4.8" ry="4.8" fill="#fff" stroke="#1B75BC" stroke-width="2.8"/>
<text x="169.2" y="756" font-family="'Liberation Serif', serif" font-weight="bold" font-size="32" fill="#1B75BC" text-anchor="middle">P</text>
<rect x="336" y="1022.25" width="36.5" height="36" rx="4.8" ry="4.8" fill="#fff" stroke="#1B75BC" stroke-width="2.8"/>
<text x="354.2" y="1051.75" font-family="'Liberation Serif', serif" font-weight="bold" font-size="32" fill="#1B75BC" text-anchor="middle">P</text>
<rect x="870.25" y="1127.25" width="36.5" height="36" rx="4.8" ry="4.8" fill="#fff" stroke="#1B75BC" stroke-width="2.8"/>
<text x="888.45" y="1156.75" font-family="'Liberation Serif', serif" font-weight="bold" font-size="32" fill="#1B75BC" text-anchor="middle">P</text>
<circle cx="599.5" cy="204" r="15.5" fill="#2E7A50"/>
<path d="M615.55,202.76L615.6,204.05L607.44,203.71ZM614.99,208.38L614.43,210.02L605.97,206.21ZM611.89,214.28L610.74,215.53L603.59,207.78ZM605.25,219.04L604.11,219.42L601.36,209.47ZM599.1,220.09L597.05,219.91L598.98,209.88ZM593.1,218.77L591.46,217.95L595.42,212.13ZM586.79,213.88L585.89,212.6L591.96,209.29ZM584.49,209.81L583.86,207.82L593.25,205.96ZM583.47,202.46L583.64,201.21L592.94,203.11ZM586.71,194.22L587.57,193.19L593.6,199.09ZM591.19,190.21L592.55,189.48L595.92,197.36ZM595.78,188.34L596.95,188.1L598.29,197.9ZM604.29,188.63L605.8,189.18L601.79,197.76ZM609.87,191.69L611.07,192.8L603.99,199.18ZM614.22,197.48L614.89,199.28L605.47,201.77Z" fill="#fff" opacity="0.5"/>
<circle cx="79.4" cy="686.25" r="20" fill="#2E7A50"/>
<path d="M99.99,685.47L99.95,687.67L90.77,686.43ZM98.19,694.68L97.36,696.34L90.03,691.61ZM95.05,699.65L93.64,701.13L87.23,693.66ZM88.16,704.9L86.17,705.71L82.12,692.91ZM77.79,706.79L75.27,706.43L78.02,696.02ZM68.52,703.74L66.96,702.67L73.47,694.88ZM63.17,698.94L61.87,697.07L71.79,691.56ZM59.24,690.47L58.85,687.69L70.12,687.54ZM59.24,682.02L59.61,680.54L69.2,683.71ZM62.28,674.8L64.03,672.53L70.62,679.45ZM67.48,669.45L69.16,668.38L73.83,677.53ZM74.19,666.32L76.25,665.89L77.81,678.57ZM83.43,666.05L84.92,666.4L81.91,675.7ZM91.23,669.39L92.66,670.48L84.86,679.15ZM98.54,678.63L99.06,680.1L88.11,683.16Z" fill="#fff" opacity="0.5"/>
<circle cx="1316.25" cy="748" r="15" fill="#2E7A50"/>
<path d="M1331.83,747.13L1331.8,749.19L1324.57,748.09ZM1330.29,754.79L1329.63,756.02L1322.24,751.23ZM1327.75,758.54L1326.26,759.96L1322.36,754.39ZM1322.73,762.19L1321.54,762.67L1318.56,753.67ZM1316.3,763.6L1314.68,763.52L1315.89,755.45ZM1309.62,762.12L1308.65,761.62L1313.14,754.07ZM1304.42,758.17L1303.38,756.82L1309.26,753.38ZM1301.03,751.44L1300.76,749.81L1308.79,749.28ZM1300.99,744.76L1301.27,743.64L1307.89,745.9ZM1303.57,738.92L1304.86,737.34L1309.88,742.77ZM1307.5,735.08L1308.81,734.29L1313.32,743.18ZM1314.48,732.5L1315.64,732.41L1315.83,742.51ZM1319.54,732.75L1320.77,733.07L1317.88,741.68ZM1325.11,735.16L1325.99,735.81L1319.72,743.33ZM1329.55,739.85L1330.27,741.15L1320.94,745.43Z" fill="#fff" opacity="0.5"/>
<circle cx="1137.5" cy="1387.5" r="27" fill="#2E7A50"/>
<path d="M1165.09,1388.1L1164.85,1391.21L1147.92,1388.32ZM1163.7,1396.18L1162.77,1398.61L1148.62,1391.77ZM1158.72,1405.15L1156.26,1407.75L1149.22,1398.61ZM1147.56,1413.2L1144.84,1414.1L1140.67,1397.02ZM1138.21,1415.09L1135.61,1415.04L1137.26,1398.73ZM1123.03,1411L1121.17,1409.75L1132.14,1395.47ZM1114.53,1402.79L1113.02,1400.25L1128.51,1392.81ZM1110.67,1393.96L1110.27,1392.02L1124.75,1390.09ZM1110.72,1380.82L1111.82,1377.39L1124.02,1383.19ZM1113.69,1373.54L1115.14,1371.33L1128.64,1381.72ZM1123.78,1363.55L1126.42,1362.22L1130.88,1374.36ZM1132.47,1360.36L1134.81,1360.03L1135.41,1372.72ZM1146.99,1361.58L1150.26,1363.03L1143.51,1373.88ZM1156.09,1367.1L1158.43,1369.51L1145.37,1379.85ZM1162.2,1375.18L1163.25,1377.58L1146.33,1383.61Z" fill="#fff" opacity="0.5"/>
<circle cx="664.5" cy="703.25" r="9" fill="#2E7A50"/>
<path d="M673.89,701.25L674.03,702.1L668.18,702.64ZM671.86,709.41L670.95,710.36L667.5,706.13ZM665.38,712.81L664.04,712.84L664.62,708.55ZM660.47,711.96L659.74,711.59L662.82,706.5ZM656.06,707.83L655.71,707.1L660.41,705.25ZM655.75,699.3L656.33,698.21L660.77,701.26ZM659.62,694.98L660.7,694.44L662.99,700.27ZM666.06,693.78L667.31,694.07L665.62,698.47ZM672.07,697.34L672.64,698.16L667.41,701.21Z" fill="#fff" opacity="0.35"/>
<circle cx="1923.5" cy="537.5" r="9" fill="#2E7A50"/>
<path d="M1933.09,538.02L1933,538.91L1928.43,538ZM1930.09,544.48L1929.38,545.09L1926.14,540.58ZM1924.26,547.07L1923.1,547.09L1923.57,541.03ZM1920.18,546.51L1919.47,546.21L1921.51,542.29ZM1914.28,540.17L1914.1,539.43L1918.64,538.7ZM1914.89,533.25L1915.44,532.28L1920.08,535.55ZM1918.51,529.3L1919.18,528.93L1921.96,534.72ZM1926.16,528.28L1927.21,528.65L1924.94,533.41ZM1931.44,532.1L1931.94,532.93L1927.87,534.84Z" fill="#fff" opacity="0.35"/>
<circle cx="607.5" cy="507.5" r="20" fill="#1A6B1A"/>
<path d="M628.09,508.03L627.97,509.78L615.74,508.06ZM626.97,514.22L626.32,515.88L616.74,511.14ZM622.74,521.36L621.3,522.8L612.9,512.92ZM613.11,527.32L611.21,527.76L609.6,516.55ZM606.36,528.07L603.63,527.73L606.39,516.54ZM596.58,524.97L594.81,523.73L601.96,515.41ZM591.21,520.11L590.36,518.92L600.03,512.87ZM587.89,513.8L587.49,512.41L596.92,510.49ZM586.98,505.66L587.28,503.56L596.98,506.01ZM590.43,495.98L591.57,494.44L599.81,501.77ZM596.31,490.21L598.55,488.95L603.81,500.94ZM604.71,487.09L606.5,486.92L606.73,499.15ZM613.95,487.94L615.97,488.72L611.06,498.36ZM621.09,492.02L623.04,493.97L614.03,501ZM626.07,498.58L626.9,500.58L616.32,503.82Z" fill="#fff" opacity="0.5"/>
<circle cx="1412" cy="326.25" r="15" fill="#1A6B1A"/>
<path d="M1427.6,326.09L1427.54,327.67L1419.24,326.54ZM1426.67,331.55L1425.82,333.48L1419.21,329.42ZM1422.31,337.96L1420.63,339.25L1415.79,331.19ZM1417.64,340.8L1415.61,341.43L1414.5,334.27ZM1412.16,341.85L1410.94,341.81L1411.8,333.16ZM1406.06,340.67L1404.83,340.11L1409.68,331.26ZM1399.63,335.76L1398.54,334.14L1404.86,331.06ZM1397.3,331.48L1396.78,329.68L1404.58,328.4ZM1396.44,325.18L1396.71,323.14L1403.2,325.06ZM1398.32,318.75L1399.47,316.96L1406.32,322.61ZM1403.24,313.34L1405.12,312.25L1407.79,319.01ZM1408.51,311.05L1410.05,310.77L1410.74,319.18ZM1415.69,311.09L1416.94,311.45L1413.78,320.06ZM1422.56,314.77L1423.36,315.55L1417.15,321.04ZM1425.93,319.23L1426.39,320.24L1417.9,323.54Z" fill="#fff" opacity="0.5"/>
<circle cx="1517" cy="993" r="20" fill="#1A6B1A"/>
<path d="M1537.59,992.44L1537.54,994.62L1524.32,993.19ZM1535.48,1002.11L1534.2,1004.34L1527.29,998.9ZM1532.61,1006.44L1531.36,1007.77L1522.24,997.93ZM1523.09,1012.68L1521.32,1013.14L1518.93,1000.4ZM1516.56,1013.6L1513.81,1013.35L1516.02,1004.05ZM1508.36,1011.7L1506.88,1010.95L1511.72,1003.32ZM1500.89,1005.84L1499.48,1003.84L1510.91,997.29ZM1497.73,1000.28L1497.01,997.96L1508.29,995.72ZM1496.43,991.93L1496.76,989.16L1506.9,991.78ZM1500.65,980.47L1501.64,979.27L1508.31,985.81ZM1504.05,976.98L1506.25,975.43L1511.66,985.43ZM1513.05,972.78L1515.27,972.47L1515.39,981.48ZM1521.62,972.92L1523.19,973.35L1519.53,983.7ZM1529.29,976.47L1530.54,977.47L1521.9,986.92ZM1534.51,982.14L1535.36,983.65L1524.46,988.8Z" fill="#fff" opacity="0.5"/>
<circle cx="14" cy="947.5" r="19" fill="#1A6B1A"/>
<path d="M33.5,945.5L33.6,947.91L22.02,947.17ZM32.22,954.73L31.56,956.2L21.58,950.88ZM29.08,960.02L27.93,961.29L18.98,952.02ZM20.16,966.11L18.11,966.67L15.98,954.79ZM13.38,967.09L10.74,966.83L13.29,954.62ZM3.92,964.31L2.29,963.21L8.99,954.98ZM-2.1,958.68L-3.11,957.06L6.32,952.3ZM-5.04,952.15L-5.5,949.47L5.84,948.9ZM-5.13,943.24L-4.49,940.99L4.7,944.84ZM-2.59,937.07L-1.54,935.55L8.33,943.55ZM2.32,931.76L3.53,930.93L8.25,939.11ZM10.17,928.28L11.75,928.03L12.91,940.53ZM20.17,928.9L22.54,929.86L17.7,938.39ZM25.77,931.82L27.08,932.91L19.1,941.28ZM31.49,938.66L32.15,940.11L21.98,943.87Z" fill="#fff" opacity="0.5"/>
<circle cx="1863.5" cy="799.25" r="15" fill="#135513"/>
<path d="M1878.99,797.41L1879.1,799.55L1872.39,798.81ZM1877.96,805.11L1877.39,806.35L1871.57,802.94ZM1874.91,809.89L1873.85,810.92L1867.17,803.01ZM1869.44,813.68L1867.92,814.21L1865.87,805.98ZM1863.66,814.85L1862.02,814.78L1863.28,804.51ZM1856.91,813.39L1855.85,812.85L1860.42,805.25ZM1852.19,810L1851.45,809.16L1858.71,803.48ZM1848.7,804.17L1848.24,802.5L1856.52,801.15ZM1848.22,796.09L1848.69,794.34L1855.84,797.2ZM1851.17,789.7L1852.15,788.54L1858.58,795.04ZM1856.54,785.29L1857.69,784.77L1860.24,791.98ZM1861.77,783.75L1862.9,783.66L1862.87,790.89ZM1868.69,784.54L1870.33,785.22L1866.59,791.87ZM1874.23,787.93L1875.1,788.82L1868.67,794.22ZM1877.32,792.02L1878.13,793.85L1871.06,795.89Z" fill="#fff" opacity="0.5"/>
<circle cx="1243.25" cy="555" r="15.5" fill="#0E4A14"/>
<path d="M1259.35,555.21L1259.23,556.99L1252.11,555.61ZM1258.09,561.24L1257.25,562.95L1248.92,557.79ZM1255.56,565.37L1254.7,566.31L1248.29,559.6ZM1250.41,569.42L1248.51,570.22L1246.18,562ZM1242.05,571.06L1240.23,570.82L1242.19,562.99ZM1235.73,569.23L1234.75,568.67L1239.01,562.38ZM1230.23,564.47L1229.31,563.05L1236.96,559.09ZM1227.52,558.41L1227.3,557.23L1235.1,556.45ZM1227.27,553.07L1227.46,551.88L1236.88,553.99ZM1230.28,545.46L1231.13,544.4L1236.78,549.81ZM1235.87,540.69L1237.4,540L1240.41,548.7ZM1240.56,539.13L1242.44,538.92L1242.34,546.65ZM1247.72,539.53L1249.46,540.15L1245.15,549.6ZM1252.54,541.85L1253.66,542.72L1248.34,548.44ZM1257.26,547.07L1258.05,548.66L1248.15,552.57Z" fill="#fff" opacity="0.5"/>
<circle cx="675.5" cy="886.25" r="15.5" fill="#0E4A14"/>
<path d="M691.45,884.06L691.58,885.48L683.5,885.51ZM690.33,892.53L689.49,894.22L681.37,889.15ZM686.83,897.69L685.6,898.79L680.32,891.64ZM682.65,900.67L680.68,901.49L677.88,891.97ZM673.3,902.2L671.16,901.76L674.38,891.63ZM668.48,900.74L666.69,899.73L670.98,894.24ZM663.01,896.41L662.16,895.27L670.49,889.97ZM659.6,888.79L659.44,887.44L667.87,887.14ZM659.45,884.95L659.68,883.24L666.47,885.03ZM661.28,878.71L662.35,876.96L669.2,882.38ZM667.75,872.14L669.48,871.32L672.79,880.54ZM674.32,870.19L675.99,870.16L675.38,880.73ZM678.03,870.35L679.68,870.7L677,879.24ZM685.26,873.45L686.25,874.27L679.81,881.04ZM689.46,878.22L690.37,880.08L680.37,883.85Z" fill="#fff" opacity="0.5"/>
<circle cx="39.4" cy="1430.25" r="16" fill="#145214"/>
<path d="M56,1430.05L55.89,1432.19L45.47,1430.57ZM54.36,1437.44L53.39,1439.18L47.44,1434.73ZM51.59,1441.51L50.46,1442.63L44.43,1435.36ZM43.75,1446.27L41.95,1446.65L40.87,1437.14ZM38.65,1446.83L37.18,1446.7L38.88,1436.02ZM33.3,1445.69L31.38,1444.78L36.53,1436.35ZM25.52,1439.36L24.78,1438.11L33.68,1433.66ZM23.31,1434.34L23.03,1432.98L32.46,1431.71ZM23.27,1426.32L23.93,1424.23L30.96,1427.59ZM25.59,1421.03L26.95,1419.27L31.98,1424.54ZM30.39,1416.31L32.13,1415.33L36.55,1425.2ZM37.63,1413.74L39.31,1413.65L38.92,1421.65ZM44.3,1414.39L45.7,1414.89L41.36,1424.79ZM51.11,1418.48L52,1419.44L44.89,1425.15ZM53.99,1422.33L54.65,1423.69L47.1,1426.52Z" fill="#fff" opacity="0.5"/>
<circle cx="915" cy="422.5" r="20" fill="#24CC18"/>
<path d="M935.57,423.65L935.39,425.45L925.23,423.52ZM934.54,429.03L933.71,431.12L923.34,425.8ZM930.39,436.2L929.22,437.4L920.78,428.09ZM920.72,442.29L918.62,442.78L916.84,430.39ZM912.54,442.95L909.71,442.41L913.25,431.58ZM906.86,441.42L905.31,440.68L911.77,429.22ZM899.24,435.76L898.27,434.52L908.53,427.53ZM895.41,428.88L894.83,426.7L903.95,425.44ZM894.86,418.16L895.39,416.19L906.24,420.15ZM897.83,411.12L899,409.52L907.99,417.36ZM902.37,406.23L903.87,405.16L908.17,412.83ZM910.19,402.47L912.32,402.08L913.15,412.52ZM922.02,403.13L923.64,403.8L918.18,414.77ZM927.16,405.87L928.73,407.14L920.81,415.33ZM934.06,414.7L934.91,417.22L925.77,418.88Z" fill="#fff" opacity="0.5"/>
<circle cx="1355.75" cy="477.5" r="19" fill="#24CC18"/>
<path d="M1375.17,474.84L1375.31,476.25L1365.72,476.5ZM1373.4,486.03L1372.43,487.8L1364.03,482.04ZM1370.94,489.89L1369.66,491.31L1363.96,484.9ZM1361.75,496.16L1359.28,496.78L1358.49,488.43ZM1355.49,497.1L1353.97,497.02L1355.37,484.87ZM1346.88,494.98L1344.89,493.82L1350.14,487.11ZM1340.02,489.2L1338.78,487.31L1347.16,483.15ZM1336.87,482.78L1336.41,480.7L1349.07,478.98ZM1336.65,473.12L1337.09,471.49L1345.13,474.58ZM1339.72,466.22L1340.82,464.81L1350.01,473.06ZM1344.16,461.7L1346.04,460.47L1350.32,469.14ZM1351.41,458.39L1352.85,458.12L1354.06,468.52ZM1361.22,458.68L1363.02,459.3L1358.26,470.21ZM1368.66,462.75L1369.67,463.7L1361.28,471.61ZM1372.99,468.18L1374.1,470.62L1364.59,473.48Z" fill="#fff" opacity="0.5"/>
<circle cx="528.75" cy="692.5" r="20" fill="#24CC18"/>
<path d="M549.34,693.09L549.17,695.21L536.9,693.16ZM548.45,698.53L547.44,701.17L538.58,696.27ZM543.66,706.72L542.6,707.75L535.38,699.29ZM535.37,712.01L533.4,712.57L531.02,700.47ZM527.26,713.05L524.51,712.66L527.62,700.55ZM521.12,711.64L519.37,710.84L524.99,700.79ZM512.13,704.67L511.17,703.23L519.62,698.61ZM508.61,696.84L508.27,694.69L520.83,693.77ZM508.85,687.17L509.43,685.36L518.17,689.14ZM510.97,682.1L511.92,680.62L519.67,686.65ZM516.53,675.91L518.91,674.4L523.66,684.5ZM524.39,672.37L526.13,672.07L527.21,683.55ZM534.45,672.71L537.09,673.67L531.39,685.23ZM541.51,676.33L542.84,677.47L536.49,683.5ZM546.52,682.07L547.24,683.41L535.18,689.04Z" fill="#fff" opacity="0.5"/>
<circle cx="693" cy="981.25" r="20" fill="#24CC18"/>
<path d="M713.52,979.42L713.58,982.16L704.42,980.99ZM711.99,989.23L710.69,991.8L703.41,986.5ZM707.92,995.45L706.7,996.64L701.12,989.64ZM699.06,1000.94L697.63,1001.32L695.68,991.22ZM692.36,1001.84L690.38,1001.68L692.31,989.88ZM684.61,1000.07L683.32,999.43L689.31,988.8ZM677.62,994.95L675.89,992.73L686.98,985.92ZM672.65,984.42L672.45,982.69L684.27,982.23ZM672.87,976.89L673.58,974.37L684.19,978.75ZM674.75,971.69L675.83,969.87L685.37,976.74ZM683.53,962.95L685.09,962.23L689.28,973.25ZM691.81,960.68L693.3,960.65L692.8,972.2ZM699.43,961.68L701.8,962.62L695.67,974.56ZM704.6,964.23L705.84,965.14L699.89,971.92ZM710.76,970.82L711.9,973.06L703.25,976.05Z" fill="#fff" opacity="0.5"/>
<circle cx="1161" cy="714.5" r="19.5" fill="#1E951E"/>
<path d="M1181.04,712.93L1181.1,714.72L1172.49,714.11ZM1179.52,722.31L1178.76,723.92L1170.32,718.93ZM1175.64,728.27L1174.36,729.52L1165.77,719.41ZM1167.47,733.53L1164.87,734.22L1163.56,724.08ZM1157.76,734.34L1156.35,734.05L1159.44,722.31ZM1152.26,732.6L1149.87,731.24L1155.31,724.47ZM1145.57,727.39L1144.51,725.99L1153.91,719.91ZM1141.67,720.02L1141.11,717.37L1153.45,716.11ZM1141.35,710.27L1142.01,707.92L1150.56,711.58ZM1144.75,702.67L1146.18,700.92L1154.48,709.17ZM1149.5,698.01L1151.12,696.99L1155.34,705.49ZM1156.32,694.95L1157.98,694.63L1158.99,704.2ZM1165.46,694.9L1166.91,695.29L1162.81,707.75ZM1173.91,699.1L1175.28,700.36L1168.86,705.96ZM1179.45,706.52L1180.38,709.16L1168.66,711.8Z" fill="#fff" opacity="0.5"/>
<circle cx="2036" cy="758.75" r="20" fill="#1E951E"/>
<path d="M2056.44,756.17L2056.58,757.75L2045.46,757.92ZM2054.87,767L2053.94,768.87L2043.31,762.4ZM2050.88,773L2049.17,774.59L2043.07,766.33ZM2042.61,778.26L2040.04,778.95L2038.68,768.72ZM2036.8,779.33L2034.15,779.27L2035.79,767.22ZM2026.31,776.93L2024.61,775.92L2030.53,767.93ZM2020.72,772.56L2019.57,771.18L2029.66,763.99ZM2016.63,765.77L2015.88,763.17L2026.5,761.5ZM2015.56,756.2L2015.91,754.22L2024.22,756.69ZM2018.85,747.34L2019.89,745.91L2027.08,752.25ZM2025.04,741.31L2027.57,739.96L2032.45,752.13ZM2032.44,738.46L2035.05,738.17L2034.77,747.61ZM2043.34,739.5L2044.73,740.09L2039.31,750.95ZM2047.83,741.88L2049.19,742.93L2043.21,749.33ZM2054.38,749.44L2055.46,752L2044.16,755.29Z" fill="#fff" opacity="0.5"/>
<circle cx="133" cy="1004" r="15" fill="#1E951E"/>
<path d="M148.59,1004.4L148.47,1005.98L139.21,1004.48ZM147.31,1010.2L146.34,1012.09L138.02,1006.59ZM143.86,1015.2L142.52,1016.36L136.97,1008.59ZM138.81,1018.48L137.64,1018.9L135.02,1009.67ZM133.04,1019.6L131.3,1019.51L132.59,1011.68ZM126.55,1018.21L125.56,1017.71L130.12,1009.8ZM120.42,1013.22L119.7,1012.15L127.67,1007.58ZM118.26,1009.12L117.74,1007.23L125.96,1005.96ZM117.45,1002.76L117.59,1001.57L126.31,1003.21ZM119.96,995.43L121.03,994L128.51,1000.67ZM123.52,991.61L125.05,990.58L129.2,998.38ZM129.96,988.7L131.38,988.48L131.68,995.27ZM136.4,988.78L138.05,989.24L134.79,997.66ZM142.44,991.58L143.98,992.92L138.9,997.22ZM146.77,996.67L147.33,997.85L140.19,1000.55Z" fill="#fff" opacity="0.5"/>
<circle cx="648.25" cy="1177.5" r="15" fill="#1E951E"/>
<path d="M663.78,1175.98L663.84,1177.08L656.86,1176.96ZM662.96,1182.69L662.18,1184.52L654.48,1180.16ZM658.35,1189.39L657.08,1190.36L651.81,1182.15ZM655.32,1191.41L653.77,1192.09L651.34,1184.5ZM645.88,1192.92L644.71,1192.69L646.81,1184.95ZM641.55,1191.59L640.11,1190.81L645.49,1182.6ZM636.59,1187.87L635.56,1186.57L641.43,1182.94ZM633.56,1182.75L633.09,1181.2L640.33,1179.88ZM633.2,1173.41L633.59,1172.16L642.79,1175.77ZM635.85,1168.03L637.27,1166.42L642.95,1172.84ZM638.39,1165.41L640.1,1164.2L644.37,1172.03ZM647.05,1161.95L648.82,1161.91L648.08,1169.16ZM651.05,1162.15L652.94,1162.62L649.71,1171.6ZM657.67,1165.07L659.2,1166.38L653.72,1171.18ZM661.73,1169.64L662.35,1170.82L654.22,1174.35Z" fill="#fff" opacity="0.5"/>
<circle cx="176.25" cy="1445.6" r="20" fill="#1DB81D"/>
<path d="M196.83,1444.68L196.82,1446.67L183.87,1445.63ZM195.9,1451.8L195.01,1454.12L186.98,1449.71ZM192.18,1458.66L190.66,1460.32L184.2,1452.89ZM185.68,1463.92L183.25,1464.98L179.28,1452.56ZM174.78,1466.15L172.57,1465.87L174.98,1455.66ZM167.6,1464.3L165.79,1463.35L171.65,1454.38ZM160.52,1458.9L159.08,1456.99L168.86,1451.14ZM156.33,1450.86L156.01,1449.42L166.4,1447.83ZM155.93,1442.24L156.29,1440.49L165.66,1443.37ZM159.68,1433.37L161.01,1431.74L170.14,1440.59ZM165.17,1428.23L166.55,1427.43L172.39,1439ZM173.02,1425.25L174.58,1425.07L175.15,1436.46ZM181.94,1425.8L183.37,1426.27L179.42,1435.92ZM187.62,1428.42L189.62,1429.93L182.8,1436.9ZM194.77,1436.58L195.38,1437.97L184.96,1441.75Z" fill="#fff" opacity="0.5"/>
<circle cx="67.5" cy="1451.25" r="19.7" fill="#86EC2A"/>
<path d="M87.71,1449.35L87.78,1452.12L75.06,1451.06ZM86,1459.6L84.66,1462.09L76.75,1456.23ZM80.71,1466.66L79.38,1467.71L74.76,1460.47ZM75.11,1470.07L72.47,1470.93L71.04,1462.09ZM68.07,1471.54L65.53,1471.45L67.1,1462.72ZM59.87,1470.06L58.13,1469.26L63.05,1460.89ZM52.87,1465.33L51.14,1463.27L61.19,1456.56ZM47.54,1454.95L47.31,1453.34L58.23,1452.59ZM47.86,1446.13L48.36,1444.49L59.67,1448.85ZM50.56,1440.07L51.66,1438.55L61.78,1447.08ZM55.53,1434.86L56.9,1433.94L61.1,1441.69ZM64.8,1431.13L67.48,1430.95L66.98,1443.54ZM74.17,1432.08L75.64,1432.66L70.97,1442.4ZM80.79,1435.91L82.19,1437.24L75.22,1443.15ZM85.67,1442.19L86.56,1444.25L77.82,1446.8Z" fill="#fff" opacity="0.5"/>
<circle cx="685" cy="809.5" r="9" fill="#70E41C"/>
<path d="M694.39,807.52L694.58,808.85L689.52,808.87ZM692.93,814.91L692.19,815.86L687.96,811.8ZM685.56,819.08L684.5,819.09L685.01,813.46ZM679.86,817.61L679.07,817.05L682.95,812.4ZM675.83,812.34L675.65,811.66L680.18,810.8ZM675.6,807.54L675.89,806.48L679.82,808.11ZM679.97,801.33L680.95,800.8L683.17,806.11ZM684.66,799.91L685.35,799.91L685,806.01ZM692.29,803.26L692.88,804.02L688.41,806.87Z" fill="#fff" opacity="0.35"/>
<circle cx="1346.75" cy="1070" r="9" fill="#2BDD2B"/>
<path d="M1356.3,1070.94L1356.2,1071.7L1350.38,1070.5ZM1353.99,1076.3L1353.52,1076.8L1349.06,1072.15ZM1349.25,1079.27L1348.53,1079.43L1347.63,1073.85ZM1343.26,1078.94L1342.29,1078.5L1344.9,1074.07ZM1338.37,1074.68L1337.89,1073.7L1342.96,1071.84ZM1337.26,1068.53L1337.55,1067.26L1343.14,1069.19ZM1340.68,1062.56L1341.27,1062.12L1343.99,1066.34ZM1349.05,1060.68L1350.19,1061.04L1347.96,1066.13ZM1353.33,1063.01L1353.81,1063.49L1350.02,1066.76Z" fill="#fff" opacity="0.35"/>
<circle cx="512.5" cy="720" r="9" fill="#1A6B1A"/>
<path d="M522.1,719.76L522.08,720.66L517.1,720.1ZM520.36,725.51L519.55,726.52L516.24,723.01ZM515.6,729.09L514.37,729.42L513.34,723.14ZM508.02,728.49L507.21,728.01L510.62,723.17ZM504.39,725.14L503.82,724.1L509.72,721.53ZM503.33,717.17L503.79,715.96L509.26,718.76ZM506.43,712.56L507.3,711.93L509.98,716.53ZM514.03,710.52L515.22,710.79L513.29,716.55ZM519.12,713.05L519.72,713.68L514.85,717.74Z" fill="#fff" opacity="0.35"/>
<circle cx="873.75" cy="604.4" r="9" fill="#1A6B1A"/>
<path d="M883.32,605.11L883.16,606.29L878.47,605.04ZM882.35,608.67L881.73,609.74L877.92,606.82ZM876.1,613.71L874.95,613.92L874.52,608.5ZM870.11,613.28L869.43,612.97L872.23,607.74ZM865.6,609.47L865.16,608.69L869.53,606.76ZM864.74,601.08L865.24,599.95L869.41,602.47ZM867.87,596.81L868.72,596.22L871.4,601ZM875.86,595.04L876.85,595.31L874.77,600.79ZM880.98,598.09L881.78,599.14L876.65,602.2Z" fill="#fff" opacity="0.35"/>
<circle cx="193" cy="843.3" r="9" fill="#1A6B1A"/>
<path d="M202.55,844.23L202.46,844.91L196.7,843.79ZM201.21,848.28L200.54,849.24L197.34,846.3ZM194.29,852.81L193.4,852.89L193.45,848.41ZM189.08,852.06L188.34,851.69L190.68,847.94ZM184.02,846.71L183.68,845.62L188.57,844.69ZM184.42,839L184.91,838.14L188.62,840.81ZM188.23,834.97L189.35,834.42L191.18,839.59ZM194.89,833.89L195.91,834.15L193.96,839.58ZM199.3,836.05L200.08,836.81L195.32,840.92Z" fill="#fff" opacity="0.35"/>
<circle cx="1410.75" cy="1272.3" r="9" fill="#1A6B1A"/>
<path d="M1420.3,1273.29L1420.19,1274.05L1413.93,1272.76ZM1419.21,1276.85L1418.52,1277.94L1414.07,1274.39ZM1413.91,1281.36L1413.25,1281.57L1411.71,1275.4ZM1405.87,1280.57L1404.96,1279.95L1408.12,1276.22ZM1401.59,1275.17L1401.4,1274.48L1406.43,1273.48ZM1401.42,1270.04L1401.78,1268.87L1405.98,1270.82ZM1406.8,1263.55L1407.46,1263.28L1408.82,1267.57ZM1413.14,1263L1414.38,1263.41L1411.81,1269.08ZM1417.16,1265.15L1417.7,1265.67L1413,1269.98Z" fill="#fff" opacity="0.35"/>
<circle cx="160" cy="1473.4" r="9" fill="#1A6B1A"/>
<path d="M169.58,1473.96L169.44,1475.16L164.54,1473.95ZM166.99,1479.98L166.2,1480.73L162.61,1476.15ZM163.32,1482.41L162.61,1482.64L161.5,1478.02ZM156.49,1482.33L155.68,1481.97L158.32,1477.15ZM151.87,1478.5L151.45,1477.77L156.71,1475.27ZM151.07,1469.87L151.45,1469.03L156.47,1471.81ZM156.14,1464.61L157.08,1464.25L158.21,1468.66ZM161.72,1463.95L162.39,1464.1L160.87,1469.42ZM166.81,1466.63L167.59,1467.53L162.95,1470.81Z" fill="#fff" opacity="0.35"/>
<circle cx="616.25" cy="1228" r="19.5" fill="#E3212B"/><rect x="599" y="1224" width="34.5" height="8.3" fill="#fff"/>
<g fill="#fff" stroke="#1B75BC" stroke-width="5.4">
<ellipse cx="2044" cy="1105" rx="67.4" ry="66.4"/>
<circle cx="2094.5" cy="1011.5" r="50"/>
<ellipse cx="-1" cy="1315.6" rx="67.4" ry="66.4"/>
</g>
<g font-family="'Liberation Serif', serif" font-weight="bold" font-size="24.5" fill="#1a1a1a">
<text x="1985" y="1115">Spielplatz</text>
<text x="53.6" y="1324.4" text-anchor="end" font-size="28.5">Spielplatz</text>
</g>
<text transform="translate(885.5,292.5) rotate(12.5)" font-family="'Liberation Serif', serif" font-size="22.5" font-weight="normal" fill="#241204" stroke="#241204" stroke-width="0.45">Käferweg</text>
<text transform="translate(1494.7,453.1) rotate(12.8)" font-family="'Liberation Serif', serif" font-size="23" font-weight="normal" font-style="italic" fill="#241204" stroke="#241204" stroke-width="0.45">Käferweg</text>
<text transform="translate(658,379) rotate(17.5)" font-family="'Liberation Serif', serif" font-size="22.5" font-weight="normal" fill="#241204" stroke="#241204" stroke-width="0.45">Meisenweg</text>
<text transform="translate(515.5,568) rotate(14.5)" font-family="'Liberation Serif', serif" font-size="22" font-weight="normal" fill="#241204" stroke="#241204" stroke-width="0.45">Schmetterling</text>
<text transform="translate(646.5,601) rotate(47)" font-family="'Liberation Serif', serif" font-size="22" font-weight="normal" font-style="italic" fill="#241204" stroke="#241204" stroke-width="0.45">weg</text>
<text transform="translate(933,665.5) rotate(21)" font-family="'Liberation Serif', serif" font-size="22" font-weight="normal" font-style="italic" fill="#241204" stroke="#241204" stroke-width="0.45">Hasenpfad</text>
<text transform="translate(474.5,761) rotate(0)" font-family="'Liberation Serif', serif" font-size="22.5" font-weight="normal" fill="#241204" stroke="#241204" stroke-width="0.45">Fuchsweg</text>
<text transform="translate(1573.5,686) rotate(0)" font-family="'Liberation Serif', serif" font-size="22.5" font-weight="normal" fill="#241204" stroke="#241204" stroke-width="0.45">Eulenweg</text>
<text transform="translate(1660,886.5) rotate(0)" font-family="'Liberation Sans', sans-serif" font-size="22.5" font-weight="normal" fill="#241204" stroke="#241204" stroke-width="0.45">Mausweg</text>
<text transform="translate(1382,980.5) rotate(25)" font-family="'Liberation Serif', serif" font-size="22.3" font-weight="normal" fill="#241204" stroke="#241204" stroke-width="0.45">Froschweg</text>
<text transform="translate(641,928.5) rotate(2)" font-family="'Liberation Serif', serif" font-size="22.3" font-weight="normal" fill="#241204" stroke="#241204" stroke-width="0.45">Eichhörnchen</text>
<text transform="translate(779,931.5) rotate(18)" font-family="'Liberation Serif', serif" font-size="22.3" font-weight="normal" font-style="italic" fill="#241204" stroke="#241204" stroke-width="0.45">weg</text>
<text transform="translate(1308.75,1289) rotate(29)" font-family="'Liberation Serif', serif" font-size="23" font-weight="normal" fill="#241204" stroke="#241204" stroke-width="0.45">Igelweg</text>
<text transform="translate(2021,854.5) rotate(0)" font-family="'Liberation Serif', serif" font-size="22.5" font-weight="normal" fill="#241204" stroke="#241204" stroke-width="0.45">Am</text>
<text x="787.5" y="91.2" font-family="'Liberation Serif', serif" font-weight="bold" font-size="28.9" text-anchor="middle" fill="#1a1a1a">Wetterstudio</text>
<path d="M784.25,110.5V170" stroke="#1a1a1a" stroke-width="2" fill="none"/><path d="M776.5,167 L784.25,170.5 L792,167 L784.25,187.5Z" fill="#1a1a1a"/>
<path d="M-10,243 L43,233.5 L196,232.5 L355,259.5 L355,450.5 L-10,450.5Z" fill="#E6E8E2" stroke="#2E7850" stroke-width="5" stroke-linejoin="miter"/>
<path d="M75.1,210.8C73.06,208.82 66.16,204.38 64,200C61.84,195.62 61.65,191.67 63.3,186.9C64.95,182.13 68.34,177.13 73,174C77.66,170.87 83.2,170.08 88.7,169.8C94.2,169.53 98.82,170.72 103,172.5C107.18,174.28 109.94,178.22 111.5,179.5C112.51,177.94 114.08,173.82 117,171C119.92,168.18 122.63,166.39 127.4,164.1C132.17,161.81 137.15,159.84 143,158.5C148.85,157.16 154.35,156.53 159.3,156.8C164.25,157.08 167.53,157.82 170,160C172.47,162.18 172.62,165.4 172.8,168.7C172.98,172 172.23,174.66 171,178C169.77,181.34 168.25,183.6 166.1,186.9C163.95,190.2 160.55,194.33 159.3,196C160.9,196 164.66,195.18 168,196C171.34,196.82 173.47,197.38 177.5,200.5C181.53,203.62 186.66,207.15 190,213C193.34,218.85 195.88,225.98 195.7,232.4C195.52,238.82 193.18,243.42 189,248C184.82,252.58 177.85,255.2 172.9,257.4C167.95,259.6 165.76,258.75 162,260C158.24,261.25 154.16,263.43 152.4,264.2C152.51,265.08 153.2,266.91 153,269C152.8,271.09 153.68,272.3 151.3,275.6C148.92,278.9 146.05,283.87 140,287C133.95,290.13 126,292.88 118.3,292.7C110.6,292.52 104.05,289.96 98,286C91.95,282.04 87.96,274.95 85.3,271.1C82.64,267.25 83.5,267.09 83.5,265C83.5,262.91 84.97,260.67 85.3,259.7C83.78,260.21 80.54,262.08 77,262.5C73.46,262.92 70.95,263.74 66,262C61.05,260.26 54.18,257.6 50,253C45.82,248.4 43.38,242.58 43.2,236.9C43.02,231.22 45.24,226.38 49,222C52.76,217.62 59.85,214.93 63.7,213C67.55,211.07 67.91,211.9 70,211.5C72.09,211.1 74.16,210.93 75.1,210.8Z" fill="#2E7850"/>
<ellipse cx="124" cy="224.5" rx="29.5" ry="21.5" fill="none" stroke="#E2EFE2" stroke-width="4.5"/>
<text x="24" y="345" font-family="'Liberation Sans', sans-serif" font-size="38" fill="#2E7850" textLength="192" lengthAdjust="spacingAndGlyphs">Feriendorf</text>
<text x="-15" y="421" font-family="'Liberation Sans', sans-serif" font-size="76" fill="#2E7850" textLength="262" lengthAdjust="spacingAndGlyphs">Öfingen</text>
</svg>
</body></html>
